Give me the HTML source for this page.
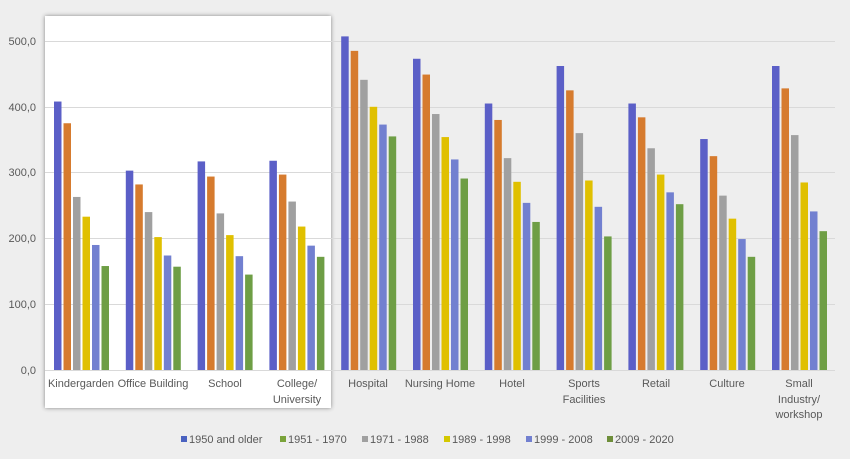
<!DOCTYPE html>
<html><head><meta charset="utf-8"><style>
body{margin:0;background:#eeeeee;}
svg{display:block;font-family:"Liberation Sans",sans-serif;}
</style></head><body>
<svg width="850" height="459" viewBox="0 0 850 459">
<defs><filter id="sh" x="-5%" y="-5%" width="110%" height="110%"><feDropShadow dx="0" dy="0" stdDeviation="2" flood-color="#000" flood-opacity="0.45"/></filter>
<g id="bars"></g></defs>
<rect width="850" height="459" fill="#eeeeee"/>
<rect x="45" y="16" width="286" height="392" fill="#ffffff" filter="url(#sh)"/>
<g stroke="#d9d9d9" stroke-width="1">
<line x1="45" x2="835" y1="41.5" y2="41.5"/>
<line x1="45" x2="835" y1="107.5" y2="107.5"/>
<line x1="45" x2="835" y1="172.5" y2="172.5"/>
<line x1="45" x2="835" y1="238.5" y2="238.5"/>
<line x1="45" x2="835" y1="304.5" y2="304.5"/>
<line x1="45" x2="835" y1="370.5" y2="370.5"/>
</g>
<g font-size="11" fill="#595959" text-anchor="end">
<text x="36" y="45">500,0</text>
<text x="36" y="111">400,0</text>
<text x="36" y="176">300,0</text>
<text x="36" y="242">200,0</text>
<text x="36" y="308">100,0</text>
<text x="36" y="374">0,0</text>
</g>
<g id="chart">
<script>
</script>
</g>
<g transform="translate(54,370) scale(1,-0.658)"><rect x="0" width="7.5" height="408" fill="#5b5fc7"/><rect x="9.5" width="7.5" height="375" fill="#d67b2e"/><rect x="19" width="7.5" height="263" fill="#a0a0a0"/><rect x="28.5" width="7.5" height="233" fill="#e0c000"/><rect x="38" width="7.5" height="190" fill="#7280d0"/><rect x="47.5" width="7.5" height="158" fill="#6e9e45"/></g>
<g transform="translate(125.8,370) scale(1,-0.658)"><rect x="0" width="7.5" height="303" fill="#5b5fc7"/><rect x="9.5" width="7.5" height="282" fill="#d67b2e"/><rect x="19" width="7.5" height="240" fill="#a0a0a0"/><rect x="28.5" width="7.5" height="202" fill="#e0c000"/><rect x="38" width="7.5" height="174" fill="#7280d0"/><rect x="47.5" width="7.5" height="157" fill="#6e9e45"/></g>
<g transform="translate(197.6,370) scale(1,-0.658)"><rect x="0" width="7.5" height="317" fill="#5b5fc7"/><rect x="9.5" width="7.5" height="294" fill="#d67b2e"/><rect x="19" width="7.5" height="238" fill="#a0a0a0"/><rect x="28.5" width="7.5" height="205" fill="#e0c000"/><rect x="38" width="7.5" height="173" fill="#7280d0"/><rect x="47.5" width="7.5" height="145" fill="#6e9e45"/></g>
<g transform="translate(269.4,370) scale(1,-0.658)"><rect x="0" width="7.5" height="318" fill="#5b5fc7"/><rect x="9.5" width="7.5" height="297" fill="#d67b2e"/><rect x="19" width="7.5" height="256" fill="#a0a0a0"/><rect x="28.5" width="7.5" height="218" fill="#e0c000"/><rect x="38" width="7.5" height="189" fill="#7280d0"/><rect x="47.5" width="7.5" height="172" fill="#6e9e45"/></g>
<g transform="translate(341.2,370) scale(1,-0.658)"><rect x="0" width="7.5" height="507" fill="#5b5fc7"/><rect x="9.5" width="7.5" height="485" fill="#d67b2e"/><rect x="19" width="7.5" height="441" fill="#a0a0a0"/><rect x="28.5" width="7.5" height="400" fill="#e0c000"/><rect x="38" width="7.5" height="373" fill="#7280d0"/><rect x="47.5" width="7.5" height="355" fill="#6e9e45"/></g>
<g transform="translate(413,370) scale(1,-0.658)"><rect x="0" width="7.5" height="473" fill="#5b5fc7"/><rect x="9.5" width="7.5" height="449" fill="#d67b2e"/><rect x="19" width="7.5" height="389" fill="#a0a0a0"/><rect x="28.5" width="7.5" height="354" fill="#e0c000"/><rect x="38" width="7.5" height="320" fill="#7280d0"/><rect x="47.5" width="7.5" height="291" fill="#6e9e45"/></g>
<g transform="translate(484.8,370) scale(1,-0.658)"><rect x="0" width="7.5" height="405" fill="#5b5fc7"/><rect x="9.5" width="7.5" height="380" fill="#d67b2e"/><rect x="19" width="7.5" height="322" fill="#a0a0a0"/><rect x="28.5" width="7.5" height="286" fill="#e0c000"/><rect x="38" width="7.5" height="254" fill="#7280d0"/><rect x="47.5" width="7.5" height="225" fill="#6e9e45"/></g>
<g transform="translate(556.6,370) scale(1,-0.658)"><rect x="0" width="7.5" height="462" fill="#5b5fc7"/><rect x="9.5" width="7.5" height="425" fill="#d67b2e"/><rect x="19" width="7.5" height="360" fill="#a0a0a0"/><rect x="28.5" width="7.5" height="288" fill="#e0c000"/><rect x="38" width="7.5" height="248" fill="#7280d0"/><rect x="47.5" width="7.5" height="203" fill="#6e9e45"/></g>
<g transform="translate(628.4,370) scale(1,-0.658)"><rect x="0" width="7.5" height="405" fill="#5b5fc7"/><rect x="9.5" width="7.5" height="384" fill="#d67b2e"/><rect x="19" width="7.5" height="337" fill="#a0a0a0"/><rect x="28.5" width="7.5" height="297" fill="#e0c000"/><rect x="38" width="7.5" height="270" fill="#7280d0"/><rect x="47.5" width="7.5" height="252" fill="#6e9e45"/></g>
<g transform="translate(700.2,370) scale(1,-0.658)"><rect x="0" width="7.5" height="351" fill="#5b5fc7"/><rect x="9.5" width="7.5" height="325" fill="#d67b2e"/><rect x="19" width="7.5" height="265" fill="#a0a0a0"/><rect x="28.5" width="7.5" height="230" fill="#e0c000"/><rect x="38" width="7.5" height="199" fill="#7280d0"/><rect x="47.5" width="7.5" height="172" fill="#6e9e45"/></g>
<g transform="translate(772,370) scale(1,-0.658)"><rect x="0" width="7.5" height="462" fill="#5b5fc7"/><rect x="9.5" width="7.5" height="428" fill="#d67b2e"/><rect x="19" width="7.5" height="357" fill="#a0a0a0"/><rect x="28.5" width="7.5" height="285" fill="#e0c000"/><rect x="38" width="7.5" height="241" fill="#7280d0"/><rect x="47.5" width="7.5" height="211" fill="#6e9e45"/></g>
<g font-size="11" fill="#595959" text-anchor="middle">
<text x="81" y="387">Kindergarden</text>
<text x="153" y="387">Office Building</text>
<text x="225" y="387">School</text>
<text x="297" y="387">College/</text><text x="297" y="403">University</text>
<text x="368" y="387">Hospital</text>
<text x="440" y="387">Nursing Home</text>
<text x="512" y="387">Hotel</text>
<text x="584" y="387">Sports</text><text x="584" y="403">Facilities</text>
<text x="656" y="387">Retail</text>
<text x="727" y="387">Culture</text>
<text x="799" y="387">Small</text><text x="799" y="403">Industry/</text><text x="799" y="418">workshop</text>
</g>
<g font-size="11" fill="#595959">
<rect x="181" y="436" width="6" height="6" fill="#4a62c0"/><text x="189" y="443">1950 and older</text>
<rect x="280" y="436" width="6" height="6" fill="#7aa33a"/><text x="288" y="443">1951 - 1970</text>
<rect x="362" y="436" width="6" height="6" fill="#a0a0a0"/><text x="370" y="443">1971 - 1988</text>
<rect x="444" y="436" width="6" height="6" fill="#d4c800"/><text x="452" y="443">1989 - 1998</text>
<rect x="526" y="436" width="6" height="6" fill="#7280d0"/><text x="534" y="443">1999 - 2008</text>
<rect x="607" y="436" width="6" height="6" fill="#6e8e3a"/><text x="615" y="443">2009 - 2020</text>
</g>
</svg>
</body></html>
